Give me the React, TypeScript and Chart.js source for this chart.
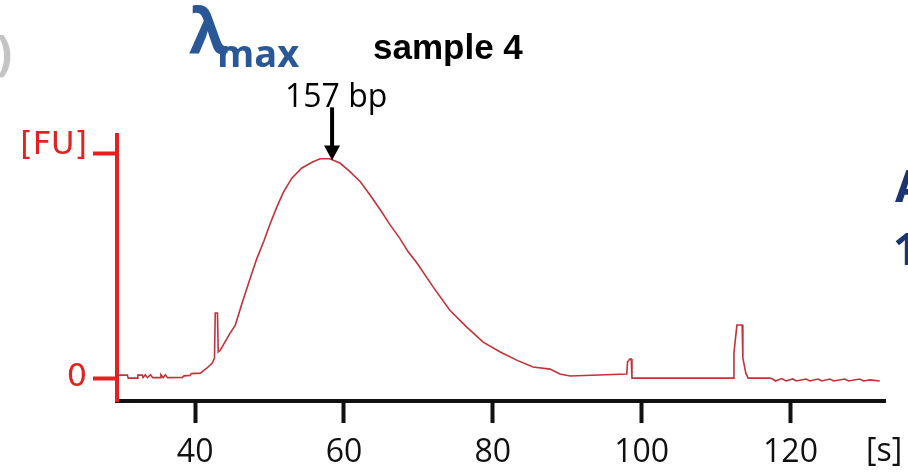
import React, { useEffect, useRef } from 'react';
import { Chart, registerables } from 'chart.js';
Chart.register(...registerables);

// Migration time [s]
const timeS = [
  29.7, 30.9, 31.0, 32.2, 32.3, 32.9, 33.0, 33.3, 33.6, 34.0, 34.3, 35.3, 35.4, 35.7, 36.0, 36.3,
  38.3, 38.5, 39.3, 39.5, 40.7, 41.6, 42.3, 42.6, 42.7, 43.0, 43.1, 43.4, 44.0, 44.7, 45.4, 46.3,
  47.4, 48.3, 49.2, 50.1, 51.0, 51.9, 53.0, 54.3, 55.7, 56.8, 58.1, 59.5, 60.8, 62.2, 63.5, 64.9,
  66.2, 67.5, 68.6, 69.8, 72.0, 74.2, 76.5, 78.7, 81.0, 83.2, 85.4, 87.7, 89.0, 90.4, 98.0,
  98.1, 98.4, 98.6, 98.7, 112.3, 112.4, 112.8, 113.5, 113.6, 114.0, 114.3, 117.2, 117.6, 118.0,
  118.8, 119.4, 120.3, 120.8, 122.1, 122.6, 123.7, 124.2, 125.3, 125.8, 127.3, 127.8, 129.3,
  129.8, 130.7, 132.0,
];
// Fluorescence (% of the [FU] tick)
const fluorescence = [
  1.3, 1.3, 0, 0, 1.3, 1.3, 0.2, 1.5, 0.2, 1.5, 0.2, 0.2, 1.5, 0.2, 1.5, 0.2,
  0.3, 1.0, 1.2, 2.0, 2.2, 4.5, 6.7, 8.9, 29, 29, 11.6, 12.5, 16, 20, 23.6, 33.3,
  44.4, 53.3, 60.7, 68.9, 76.3, 83.0, 89.0, 93.4, 96.1, 97.6, 97.6, 95.6, 91.9, 87.4, 81.5, 74.8,
  68.2, 62.2, 56.3, 51.2, 40.5, 30.3, 22.7, 16, 11.6, 8, 4.9, 4, 1.8, 0.9, 1.8,
  7.1, 8.5, 8.5, 0, 0, 11.1, 23.6, 23.6, 8.9, 2.2, 0, 0, -0.4, -1.3,
  -0.2, -1.3, -0.4, -1.3, -0.4, -1.3, -0.4, -1.3, -0.4, -1.3, -0.4, -1.3, -0.4,
  -1.3, -0.8, -1.3,
];

const xTickValues = [40, 60, 80, 100, 120];
const yTickValues = [0, 100];
const yTickLabels = ['0', '[FU]'];
const peakTime = 58.4;
const peakLabel = '157 bp';

const RED = '#e3211f';
const TRACE = '#c0333a';

const arrowPlugin = {
  id: 'peakArrow',
  afterDatasetsDraw(chart: any) {
    const { ctx, scales } = chart;
    const x = scales.x.getPixelForValue(peakTime);
    const yTip = scales.y.getPixelForValue(97);
    const yHead = scales.y.getPixelForValue(103.5);
    const yStart = scales.y.getPixelForValue(120.5);
    ctx.save();
    ctx.strokeStyle = '#000';
    ctx.fillStyle = '#000';
    ctx.lineWidth = 4;
    ctx.beginPath();
    ctx.moveTo(x, yStart);
    ctx.lineTo(x, yHead + 2);
    ctx.stroke();
    ctx.beginPath();
    ctx.moveTo(x - 8, yHead);
    ctx.lineTo(x + 8, yHead);
    ctx.lineTo(x, yTip);
    ctx.closePath();
    ctx.fill();
    ctx.restore();
  },
};

const abs = (extra: React.CSSProperties): React.CSSProperties => ({
  position: 'absolute',
  lineHeight: 1,
  whiteSpace: 'nowrap',
  margin: 0,
  ...extra,
});

export default function App() {
  const ref = useRef<HTMLCanvasElement>(null);
  useEffect(() => {
    const chart = new Chart(ref.current as HTMLCanvasElement, {
      type: 'line',
      data: {
        datasets: [
          {
            data: timeS.map((t, i) => ({ x: t, y: fluorescence[i] })),
            borderColor: TRACE,
            borderWidth: 1.6,
            pointRadius: 0,
            tension: 0,
            fill: false,
          },
        ],
      },
      options: {
        animation: false,
        responsive: false,
        maintainAspectRatio: false,
        devicePixelRatio: 1,
        layout: { padding: { top: 135, right: 23, left: 0, bottom: 0 } },
        plugins: { legend: { display: false }, tooltip: { enabled: false }, title: { display: false } },
        scales: {
          x: {
            type: 'linear',
            min: 29.5,
            max: 132.7,
            afterFit: (s: any) => { s.height = 74; },
            afterBuildTicks: (s: any) => { s.ticks = xTickValues.map((v) => ({ value: v })); },
            border: { display: true, color: '#111', width: 4 },
            grid: { drawOnChartArea: false, drawTicks: true, tickLength: 22, tickColor: '#111', tickWidth: 4, color: '#111' },
            ticks: {
              color: '#111',
              font: { family: 'Open Sans', size: 32 },
              padding: 11,
              maxRotation: 0,
              callback: (v: any) => String(v),
            },
          },
          y: {
            type: 'linear',
            min: -10.2,
            max: 108.2,
            afterFit: (s: any) => { s.width = 117; },
            afterBuildTicks: (s: any) => { s.ticks = yTickValues.map((v) => ({ value: v })); },
            border: { display: true, color: RED, width: 4 },
            grid: { drawOnChartArea: false, drawTicks: true, tickLength: 24, tickColor: RED, tickWidth: 4, color: RED },
            ticks: {
              color: RED,
              font: (c: any) =>
                c && c.tick && c.tick.value === 100
                  ? { family: 'DejaVu Sans', size: 32, lineHeight: '16px' }
                  : { family: 'DejaVu Sans', size: 32 },
              padding: 6,
              callback: (v: any) => {
                const i = yTickValues.indexOf(Number(v));
                if (i < 0) return '';
                return Number(v) === 100 ? [yTickLabels[i], ''] : yTickLabels[i];
              },
            },
          },
        },
      },
      plugins: [arrowPlugin],
    } as any);
    return () => chart.destroy();
  }, []);

  return (
    <div style={{ position: 'fixed', left: 0, top: 0, width: 908, height: 475, overflow: 'hidden', background: '#fff' }}>
      <canvas ref={ref} width={908} height={475} style={{ position: 'absolute', left: 0, top: 0, width: 908, height: 475 }} />
      <span style={abs({ left: -4, top: 28, fontFamily: 'Open Sans', fontWeight: 700, fontSize: 48, color: '#c4c4c4' })}>)</span>
      <span style={abs({ left: 189, top: -3, fontFamily: 'Open Sans', fontWeight: 700, fontSize: 63, color: '#2a5896' })}>λ</span>
      <span style={abs({ left: 217, top: 33, fontFamily: 'Open Sans', fontWeight: 700, fontSize: 38, color: '#2a5896' })}>max</span>
      <span style={abs({ left: 373, top: 29, fontFamily: 'Liberation Sans', fontWeight: 700, fontSize: 35, color: '#000' })}>sample 4</span>
      <span style={abs({ left: 285, top: 79, fontFamily: 'Open Sans', fontSize: 32, color: '#000' })}>{peakLabel}</span>
      <span style={abs({ left: 895, top: 162, fontFamily: 'Open Sans', fontWeight: 700, fontSize: 45, color: '#1a3570' })}>A</span>
      <span style={abs({ left: 893, top: 225, fontFamily: 'Open Sans', fontWeight: 700, fontSize: 45, color: '#1a3570' })}>1</span>
      <span style={abs({ left: 866, top: 433, fontFamily: 'Open Sans', fontSize: 32, color: '#111' })}>[s]</span>
    </div>
  );
}
